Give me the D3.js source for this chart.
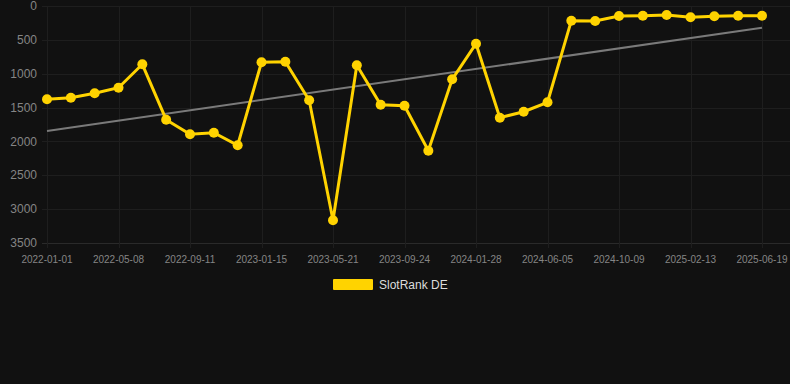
<!DOCTYPE html>
<html>
<head>
<meta charset="utf-8">
<script src="https://cdn.jsdelivr.net/npm/d3@7"></script>
<style>
  html, body { margin: 0; padding: 0; background: #111111; }
  svg { display: block; font-family: "Liberation Sans", Arial, sans-serif; }
</style>
</head>
<body>
<div id="viz"></div>
<script>
// data
const dates = [
  '2022-01-01', '2022-02-12', '2022-03-26', '2022-05-08', '2022-06-19', '2022-07-31',
  '2022-09-11', '2022-10-23', '2022-12-04', '2023-01-15', '2023-02-26', '2023-04-09',
  '2023-05-21', '2023-07-02', '2023-08-13', '2023-09-24', '2023-11-05', '2023-12-17',
  '2024-01-28', '2024-03-10', '2024-04-21', '2024-06-05', '2024-07-17', '2024-08-28',
  '2024-10-09', '2024-11-20', '2025-01-01', '2025-02-13', '2025-03-27', '2025-05-08',
  '2025-06-19'
];
const rankDE = [
  1378, 1354, 1289, 1207, 861, 1679, 1895, 1871, 2057, 831, 822, 1393,
  3165, 876, 1458, 1472, 2137, 1083, 557, 1650, 1561, 1422, 217, 222,
  148, 143, 133, 167, 152, 143, 143
];
const tickLabels = [
  '2022-01-01', '2022-05-08', '2022-09-11', '2023-01-15', '2023-05-21', '2023-09-24',
  '2024-01-28', '2024-06-05', '2024-10-09', '2025-02-13', '2025-06-19'
];
const yTicks = [0, 500, 1000, 1500, 2000, 2500, 3000, 3500];
// trend line end points (first date, last date)
const trendDates = ['2022-01-01', '2025-06-19'];
const trendValues = [1846, 320];
const seriesName = 'SlotRank DE';

const width = 790;
const height = 384;
const plot = { left: 42, right: 790, top: 6, bottom: 243 };

const gold = '#ffd300';

const svg = d3.select('#viz')
  .append('svg')
  .attr('width', width)
  .attr('height', height);

svg.append('rect')
  .attr('width', width)
  .attr('height', height)
  .attr('fill', '#111111');

const xScale = d3.scalePoint()
  .domain(dates)
  .range([47, 762]);

const yScale = d3.scaleLinear()
  .domain([0, 3500])
  .range([plot.top, plot.bottom]);

// horizontal grid
svg.append('g')
  .selectAll('line')
  .data(yTicks)
  .join('line')
  .attr('x1', plot.left)
  .attr('x2', plot.right)
  .attr('y1', d => Math.round(yScale(d)) + 0.5)
  .attr('y2', d => Math.round(yScale(d)) + 0.5)
  .attr('stroke', d => d === 3500 ? '#2a2a2a' : '#1e1e1e')
  .attr('stroke-width', 1);

// vertical grid
svg.append('g')
  .selectAll('line')
  .data(tickLabels)
  .join('line')
  .attr('x1', d => Math.round(xScale(d)) + 0.5)
  .attr('x2', d => Math.round(xScale(d)) + 0.5)
  .attr('y1', plot.top)
  .attr('y2', plot.bottom + 5)
  .attr('stroke', '#1e1e1e')
  .attr('stroke-width', 1);

// y axis labels
svg.append('g')
  .selectAll('text')
  .data(yTicks)
  .join('text')
  .attr('x', 37)
  .attr('y', d => yScale(d))
  .attr('dy', '0.35em')
  .attr('text-anchor', 'end')
  .attr('fill', '#858585')
  .style('font-size', '12px')
  .text(d => d);

// x axis labels
svg.append('g')
  .selectAll('text')
  .data(tickLabels)
  .join('text')
  .attr('x', d => xScale(d))
  .attr('y', 259)
  .attr('dy', '0.35em')
  .attr('text-anchor', 'middle')
  .attr('fill', '#858585')
  .style('font-size', '10px')
  .text(d => d);

// trend line
svg.append('path')
  .datum(trendDates.map((d, i) => ({ x: d, y: trendValues[i] })))
  .attr('fill', 'none')
  .attr('stroke', '#7a7a7a')
  .attr('stroke-width', 2)
  .attr('d', d3.line().x(d => xScale(d.x)).y(d => yScale(d.y)));

// main series
const data = dates.map((d, i) => ({ x: d, y: rankDE[i] }));

svg.append('path')
  .datum(data)
  .attr('fill', 'none')
  .attr('stroke', gold)
  .attr('stroke-width', 3)
  .attr('stroke-linejoin', 'miter')
  .attr('d', d3.line().x(d => xScale(d.x)).y(d => yScale(d.y)));

svg.append('g')
  .selectAll('circle')
  .data(data)
  .join('circle')
  .attr('cx', d => xScale(d.x))
  .attr('cy', d => yScale(d.y))
  .attr('r', 5)
  .attr('fill', gold);

// legend
const legend = svg.append('g');
legend.append('rect')
  .attr('x', 333)
  .attr('y', 279)
  .attr('width', 40)
  .attr('height', 11)
  .attr('rx', 1)
  .attr('fill', gold);
legend.append('text')
  .attr('x', 379)
  .attr('y', 285)
  .attr('dy', '0.35em')
  .attr('fill', '#dddddd')
  .style('font-size', '12px')
  .text(seriesName);
</script>
</body>
</html>
